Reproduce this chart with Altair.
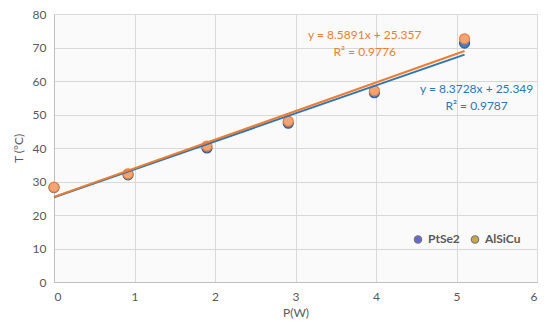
import altair as alt
import pandas as pd

series_names = ["PtSe2", "AlSiCu"]
power_w = [0, 0.92, 1.90, 2.91, 3.98, 5.10]
temp_ptse2 = [28.2, 32.0, 40.0, 47.4, 56.5, 71.3]
temp_alsicu = [28.3, 32.3, 40.6, 48.0, 57.1, 72.6]

eq_text = [
    "y = 8.3728x + 25.349\nR² = 0.9787",
    "y = 8.5891x + 25.357\nR² = 0.9776",
]
eq_x = [5.25, 3.86]
eq_y = [57.6, 73.7]

x_ticks = [0, 1, 2, 3, 4, 5, 6]
y_ticks = [0, 10, 20, 30, 40, 50, 60, 70, 80]

rows = []
for xv, yv in zip(power_w, temp_ptse2):
    rows.append({"P": xv, "T": yv, "series": "PtSe2"})
for xv, yv in zip(power_w, temp_alsicu):
    rows.append({"P": xv, "T": yv, "series": "AlSiCu"})
df = pd.DataFrame(rows)

eq_df = pd.DataFrame({"text": eq_text, "P": eq_x, "T": eq_y, "series": series_names})

FONT = "Lato"
GRAY = "#595959"

xs = alt.Scale(domain=[0, 6], nice=False)
ys = alt.Scale(domain=[0, 80], nice=False)

x_axis = alt.Axis(values=x_ticks, format="d", grid=True, ticks=False,
                  labelOverlap=False, labelPadding=9, titlePadding=5)
y_axis = alt.Axis(values=y_ticks, format="d", grid=True, ticks=False,
                  labelOverlap=False, labelPadding=8, titlePadding=7)

X = alt.X("P:Q", scale=xs, title="P(W)", axis=x_axis)
Y = alt.Y("T:Q", scale=ys, title="T (°C)", axis=y_axis)

base = alt.Chart(df)

pt_colors = {"PtSe2": ("#4a7cc4", "#2f5f9e"), "AlSiCu": ("#f4a474", "#e8803e")}
line_colors = {"PtSe2": "#2e75b6", "AlSiCu": "#ed7d31"}

layers = []
for s in series_names:
    fill, stroke = pt_colors[s]
    layers.append(
        base.transform_filter(alt.datum.series == s)
        .mark_circle(size=100, fill=fill, stroke=stroke, strokeWidth=1.2, opacity=1)
        .encode(x=X, y=Y)
    )

legend_layer = base.mark_circle(size=100, opacity=0).encode(
    x=X, y=Y,
    fill=alt.Fill("series:N",
                  scale=alt.Scale(domain=series_names, range=["#6868cc", "#c9a84c"]),
                  legend=alt.Legend(title=None, orient="none", direction="horizontal",
                                    legendX=358, legendY=219, symbolOpacity=1,
                                    symbolSize=55, symbolStrokeWidth=1.2,
                                    symbolStrokeColor="#7a7a7a",
                                    labelFont=FONT, labelFontSize=12,
                                    labelColor=GRAY, labelFontWeight="bold",
                                    columnPadding=8, labelOffset=4)),
)
layers.append(legend_layer)

for s in series_names:
    layers.append(
        base.transform_filter(alt.datum.series == s)
        .transform_regression("P", "T")
        .mark_line(color=line_colors[s], strokeWidth=2)
        .encode(x=X, y=Y)
    )

eq_layer = alt.Chart(eq_df).mark_text(font=FONT, fontSize=12, lineBreak="\n",
                                      lineHeight=17, align="center",
                                      baseline="middle").encode(
    x=X,
    y=Y,
    text="text:N",
    color=alt.Color("series:N",
                    scale=alt.Scale(domain=series_names, range=["#2e75b6", "#ed7d31"]),
                    legend=None),
)
layers.append(eq_layer)

chart = alt.layer(*layers).resolve_scale(color="independent", fill="independent").properties(
    width=483, height=268,
    autosize=alt.AutoSizeParams(type="none"),
    padding={"left": 46, "top": 6, "right": 5, "bottom": 43},
    background="white",
).configure_view(
    fill="#fafafa", stroke="#d9d9d9", strokeWidth=1
).configure_axis(
    labelFont=FONT, labelFontSize=12, labelColor=GRAY,
    titleFont=FONT, titleFontSize=12, titleColor=GRAY, titleFontWeight="normal",
    gridColor="#d9d9d9", gridWidth=1, domainColor="#bfbfbf", domainWidth=1,
)

chart.save("out.html", embed_options={"renderer": "svg", "actions": False})
